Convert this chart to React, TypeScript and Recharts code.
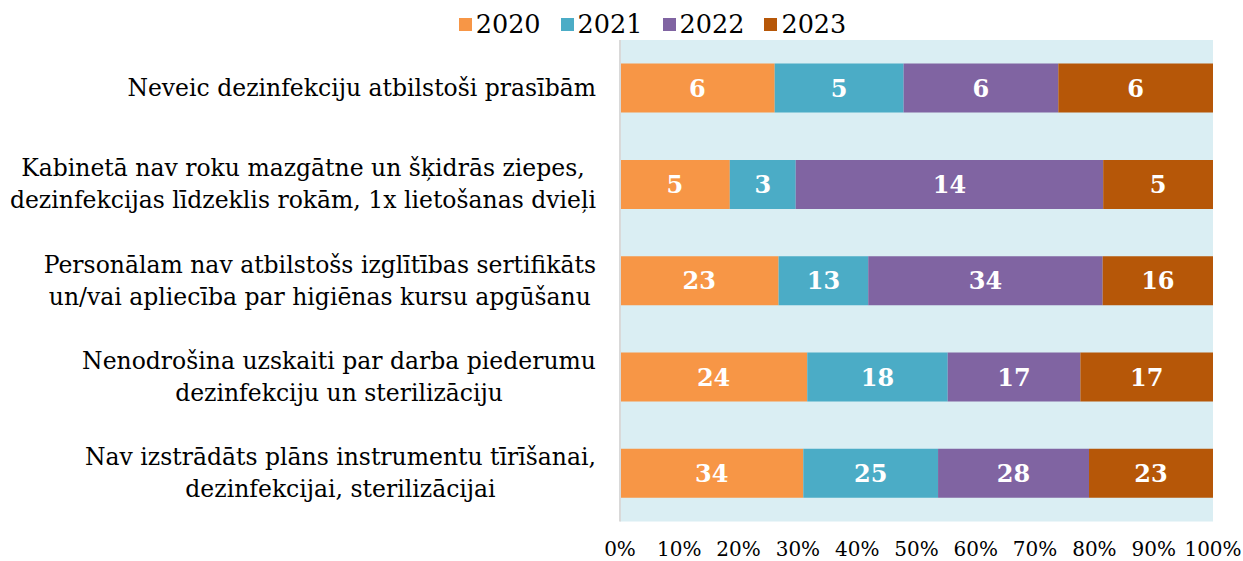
import React from 'react';
import { BarChart, Bar, XAxis, YAxis, CartesianGrid, Legend, LabelList } from 'recharts';

const categories = [
  'Neveic dezinfekciju atbilstoši prasībām',
  'Kabinetā nav roku mazgātne un šķidrās ziepes,\ndezinfekcijas līdzeklis rokām, 1x lietošanas dvieļi',
  'Personālam nav atbilstošs izglītības sertifikāts\nun/vai apliecība par higiēnas kursu apgūšanu',
  'Nenodrošina uzskaiti par darba piederumu\ndezinfekciju un sterilizāciju',
  'Nav izstrādāts plāns instrumentu tīrīšanai,\ndezinfekcijai, sterilizācijai',
];

const years = ['2020', '2021', '2022', '2023'];
const v2020 = [6, 5, 23, 24, 34];
const v2021 = [5, 3, 13, 18, 25];
const v2022 = [6, 14, 34, 17, 28];
const v2023 = [6, 5, 16, 17, 23];
const xTicks = [0, 0.1, 0.2, 0.3, 0.4, 0.5, 0.6, 0.7, 0.8, 0.9, 1];

const COLORS: Record<string, string> = {
  '2020': '#F79646',
  '2021': '#4BACC6',
  '2022': '#8064A2',
  '2023': '#B65708',
};

const FONT = "'DejaVu Serif', 'Liberation Serif', serif";
const LABEL_SIZE = 23.5;

const data = categories.map((name, i) => ({
  name,
  '2020': v2020[i],
  '2021': v2021[i],
  '2022': v2022[i],
  '2023': v2023[i],
}));

let ctx: CanvasRenderingContext2D | null = null;
function textWidth(s: string) {
  if (!ctx) ctx = document.createElement('canvas').getContext('2d');
  if (!ctx) return s.length * LABEL_SIZE * 0.55;
  ctx.font = `${LABEL_SIZE}px ${FONT}`;
  return ctx.measureText(s).width;
}

// category labels: block right-aligned to the axis, lines centred inside the block
function CategoryTick(props: any) {
  const { x, y, payload } = props;
  const lines: string[] = String(payload.value).split('\n');
  const maxW = Math.max(...lines.map(textWidth));
  const right = x - 16;
  const cx = right - maxW / 2;
  const lh = 32;
  const startY = y - ((lines.length - 1) * lh) / 2;
  return (
    <text x={cx} y={startY} textAnchor="middle" fontFamily={FONT} fontSize={LABEL_SIZE} fill="#000">
      {lines.map((l, i) => (
        <tspan key={i} x={cx} y={startY + i * lh} dominantBaseline="central">
          {l}
        </tspan>
      ))}
    </text>
  );
}

function PercentTick(props: any) {
  const { x, y, payload } = props;
  return (
    <text x={x} y={y + 19.5} textAnchor="middle" dominantBaseline="central" fontFamily={FONT} fontSize={20} fill="#000">
      {`${Math.round(payload.value * 100)}%`}
    </text>
  );
}

function LegendContent() {
  return (
    <div
      style={{
        display: 'flex',
        justifyContent: 'center',
        height: 30,
        alignItems: 'center',
        fontFamily: FONT,
        fontSize: 25.5,
        paddingLeft: 62,
      }}
    >
      {years.map((y) => (
        <div key={y} style={{ display: 'flex', alignItems: 'center', margin: '0 10px' }}>
          <span style={{ width: 13, height: 13, background: COLORS[y], display: 'inline-block', marginRight: 4 }} />
          <span>{y}</span>
        </div>
      ))}
    </div>
  );
}

export default function App() {
  return (
    <div style={{ position: 'absolute', left: 0, top: 0, width: 1243, height: 561, background: '#fff' }}>
      <BarChart
        width={1243}
        height={561}
        data={data}
        layout="vertical"
        stackOffset="expand"
        barCategoryGap="24.5%"
        margin={{ top: 10, right: 30, bottom: 0, left: 0 }}
      >
        <CartesianGrid fill="#DAEEF3" horizontal={false} vertical={false} />
        <XAxis
          type="number"
          domain={[0, 1]}
          ticks={xTicks}
          axisLine={false}
          tickLine={false}
          tick={<PercentTick />}
          height={39.5}
          interval={0}
        />
        <YAxis
          type="category"
          dataKey="name"
          width={620}
          axisLine={{ stroke: '#D9D9D9', strokeWidth: 2 }}
          tickLine={false}
          tick={<CategoryTick />}
          interval={0}
        />
        <Legend
          verticalAlign="top"
          align="center"
          content={<LegendContent />}
          wrapperStyle={{ top: 9, left: 0, width: 1243 }}
        />
        {years.map((y) => (
          <Bar key={y} dataKey={y} stackId="a" fill={COLORS[y]} isAnimationActive={false}>
            <LabelList
              dataKey={y}
              position="center"
              fill="#fff"
              fontFamily={FONT}
              fontWeight="bold"
              fontSize={24}
            />
          </Bar>
        ))}
      </BarChart>
    </div>
  );
}
